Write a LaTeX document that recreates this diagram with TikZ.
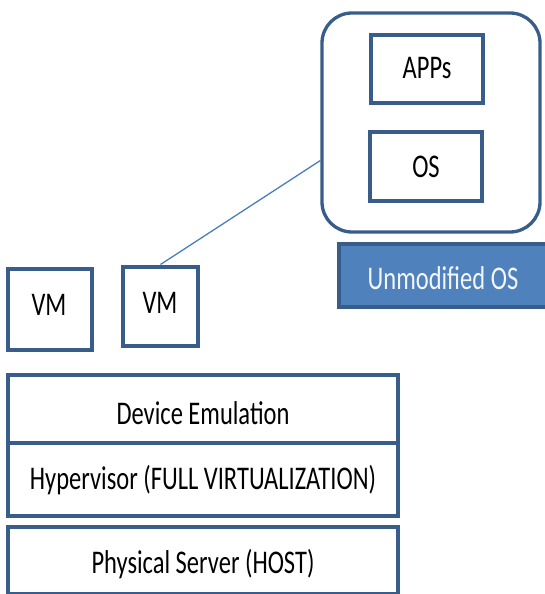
\documentclass[tikz,border=0pt]{standalone}
\usepackage{fontspec}
\setmainfont{Carlito}
\definecolor{bordblue}{RGB}{56,93,138}
\definecolor{fillblue}{RGB}{79,129,189}
\definecolor{lineblue}{RGB}{74,126,187}
\newcommand{\stretchtxt}[1]{\scalebox{1}[1.35]{#1}}
\tikzset{
  box/.style={draw=bordblue, line width=4pt, fill=white, inner sep=0pt},
  guestbox/.style={draw=bordblue, line width=3.3pt, rounded corners=30pt, inner sep=0pt},
  filledbox/.style={draw=bordblue, line width=4pt, fill=fillblue, inner sep=0pt},
  lbl/.style={inner sep=0pt, font=\fontsize{24.5}{24.5}\selectfont, text=black},
  wlbl/.style={lbl, text=white!93!fillblue},
  link/.style={draw=lineblue, line width=1.3pt}
}
\begin{document}
\begin{tikzpicture}[x=1pt, y=-1pt]
\useasboundingbox (0,0) rectangle (545,594);
% guest OS group
\node[guestbox, minimum width=218pt, minimum height=219pt] (guest) at (431,122.5) {};
\node[box, minimum width=112pt, minimum height=68pt] (apps) at (427,69) {};
\node[lbl] (appst) at (427,68) {\stretchtxt{APPs}};
\node[box, minimum width=112pt, minimum height=69pt] (os) at (426,166) {};
\node[lbl] (ost) at (426,167) {\stretchtxt{OS}};
\node[filledbox, minimum width=212pt, minimum height=63pt] (unmod) at (445,275.5) {};
\node[wlbl] (unmodt) at (443,278) {\stretchtxt{Unmodified OS}};
% VMs
\node[box, minimum width=84pt, minimum height=81pt] (vm1) at (50,309.5) {};
\node[lbl] (vm1t) at (49,305) {\stretchtxt{VM}};
\node[box, minimum width=75pt, minimum height=79pt] (vm2) at (160.5,306) {};
\node[lbl] (vm2t) at (160,302.5) {\stretchtxt{VM}};
% layers
\node[box, minimum width=390pt, minimum height=69pt] (emu) at (203,409.5) {};
\node[lbl] (emut) at (203,413) {\stretchtxt{Device Emulation}};
\node[box, minimum width=390pt, minimum height=73pt] (hyp) at (203,479.5) {};
\node[lbl, anchor=base] (hypt) at (203,489) {\stretchtxt{Hypervisor (FULL VIRTUALIZATION)}};
\node[box, minimum width=390pt, minimum height=67pt] (host) at (203,560.5) {};
\node[lbl, anchor=base] (hostt) at (203,573) {\stretchtxt{Physical Server (HOST)}};
% connector
\draw[link] (vm2.north) -- ([yshift=-38pt]guest.west);
\end{tikzpicture}
\end{document}
